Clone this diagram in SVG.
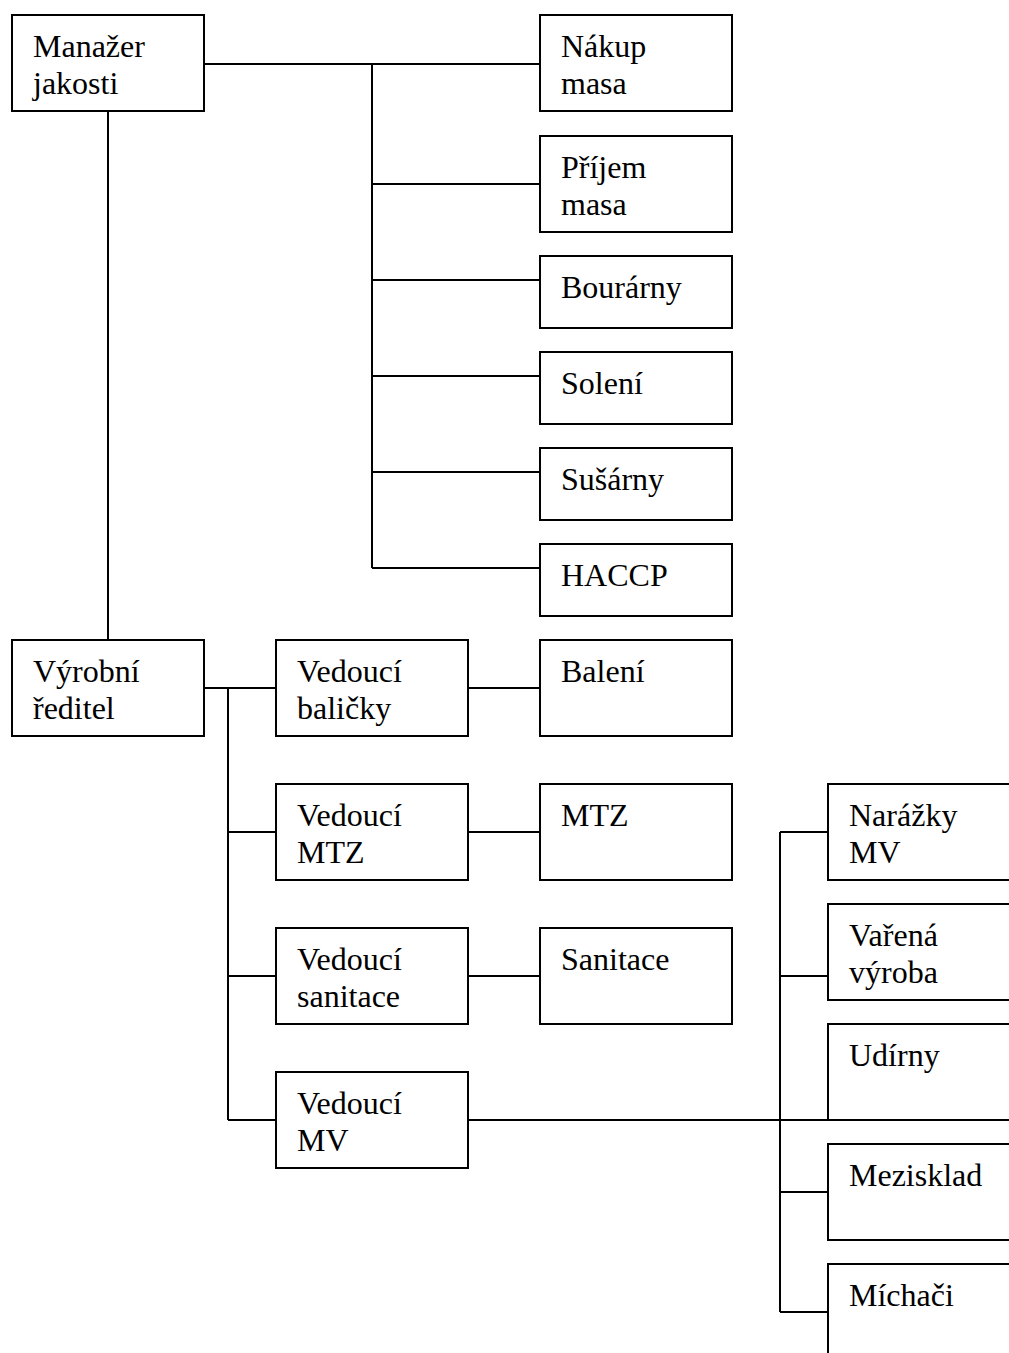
<svg xmlns="http://www.w3.org/2000/svg" width="1009" height="1353" viewBox="0 0 1009 1353">
  <style>
    .box { fill: #fff; stroke: #000; stroke-width: 2; }
    .lbl { font-family: 'Liberation Serif', 'DejaVu Serif', serif; font-size: 32px; fill: #000; }
    .wire { fill: none; stroke: #000; stroke-width: 2; }
  </style>
  <rect width="1009" height="1353" fill="#fff"/>

  <!-- connectors -->
  <g id="connectors" class="wire">
    <path d="M204 64 H540"/>
    <path d="M372 64 V568"/>
    <path d="M372 184 H540 M372 280 H540 M372 376 H540 M372 472 H540 M372 568 H540"/>
    <path d="M108 111 V640"/>
    <path d="M204 688 H276"/>
    <path d="M228 688 V1120"/>
    <path d="M228 832 H276 M228 976 H276 M228 1120 H276"/>
    <path d="M468 688 H540 M468 832 H540 M468 976 H540"/>
    <path d="M468 1120 H1009"/>
    <path d="M780 832 V1312"/>
    <path d="M780 832 H828 M780 976 H828 M780 1192 H828 M780 1312 H828"/>
  </g>

  <!-- left column -->
  <g id="manazer-jakosti" font-family="Liberation Serif, serif">
    <rect class="box" x="12" y="15" width="192" height="96"/>
    <text class="lbl" x="33" y="57">Manažer</text>
    <text class="lbl" x="33" y="94">jakosti</text>
  </g>
  <g id="vyrobni-reditel">
    <rect class="box" x="12" y="640" width="192" height="96"/>
    <text class="lbl" x="33" y="682">Výrobní</text>
    <text class="lbl" x="33" y="719">ředitel</text>
  </g>

  <!-- quality branch -->
  <g id="nakup-masa">
    <rect class="box" x="540" y="15" width="192" height="96"/>
    <text class="lbl" x="561" y="57">Nákup</text>
    <text class="lbl" x="561" y="94">masa</text>
  </g>
  <g id="prijem-masa">
    <rect class="box" x="540" y="136" width="192" height="96"/>
    <text class="lbl" x="561" y="178">Příjem</text>
    <text class="lbl" x="561" y="215">masa</text>
  </g>
  <g id="bourarny">
    <rect class="box" x="540" y="256" width="192" height="72"/>
    <text class="lbl" x="561" y="298">Bourárny</text>
  </g>
  <g id="soleni">
    <rect class="box" x="540" y="352" width="192" height="72"/>
    <text class="lbl" x="561" y="394">Solení</text>
  </g>
  <g id="susarny">
    <rect class="box" x="540" y="448" width="192" height="72"/>
    <text class="lbl" x="561" y="490">Sušárny</text>
  </g>
  <g id="haccp">
    <rect class="box" x="540" y="544" width="192" height="72"/>
    <text class="lbl" x="561" y="586">HACCP</text>
  </g>

  <!-- production managers -->
  <g id="vedouci-balicky">
    <rect class="box" x="276" y="640" width="192" height="96"/>
    <text class="lbl" x="297" y="682">Vedoucí</text>
    <text class="lbl" x="297" y="719">baličky</text>
  </g>
  <g id="vedouci-mtz">
    <rect class="box" x="276" y="784" width="192" height="96"/>
    <text class="lbl" x="297" y="826">Vedoucí</text>
    <text class="lbl" x="297" y="863">MTZ</text>
  </g>
  <g id="vedouci-sanitace">
    <rect class="box" x="276" y="928" width="192" height="96"/>
    <text class="lbl" x="297" y="970">Vedoucí</text>
    <text class="lbl" x="297" y="1007">sanitace</text>
  </g>
  <g id="vedouci-mv">
    <rect class="box" x="276" y="1072" width="192" height="96"/>
    <text class="lbl" x="297" y="1114">Vedoucí</text>
    <text class="lbl" x="297" y="1151">MV</text>
  </g>

  <!-- departments -->
  <g id="baleni">
    <rect class="box" x="540" y="640" width="192" height="96"/>
    <text class="lbl" x="561" y="682">Balení</text>
  </g>
  <g id="mtz">
    <rect class="box" x="540" y="784" width="192" height="96"/>
    <text class="lbl" x="561" y="826">MTZ</text>
  </g>
  <g id="sanitace">
    <rect class="box" x="540" y="928" width="192" height="96"/>
    <text class="lbl" x="561" y="970">Sanitace</text>
  </g>

  <!-- MV sections (run past the right edge) -->
  <g id="narazky-mv">
    <rect class="box" x="828" y="784" width="200" height="96"/>
    <text class="lbl" x="849" y="826">Narážky</text>
    <text class="lbl" x="849" y="863">MV</text>
  </g>
  <g id="varena-vyroba">
    <rect class="box" x="828" y="904" width="200" height="96"/>
    <text class="lbl" x="849" y="946">Vařená</text>
    <text class="lbl" x="849" y="983">výroba</text>
  </g>
  <g id="udirny">
    <rect class="box" x="828" y="1024" width="200" height="96"/>
    <text class="lbl" x="849" y="1066">Udírny</text>
  </g>
  <g id="mezisklad">
    <rect class="box" x="828" y="1144" width="200" height="96"/>
    <text class="lbl" x="849" y="1186">Mezisklad</text>
  </g>
  <g id="michaci">
    <rect class="box" x="828" y="1264" width="200" height="150"/>
    <text class="lbl" x="849" y="1306">Míchači</text>
  </g>
</svg>
